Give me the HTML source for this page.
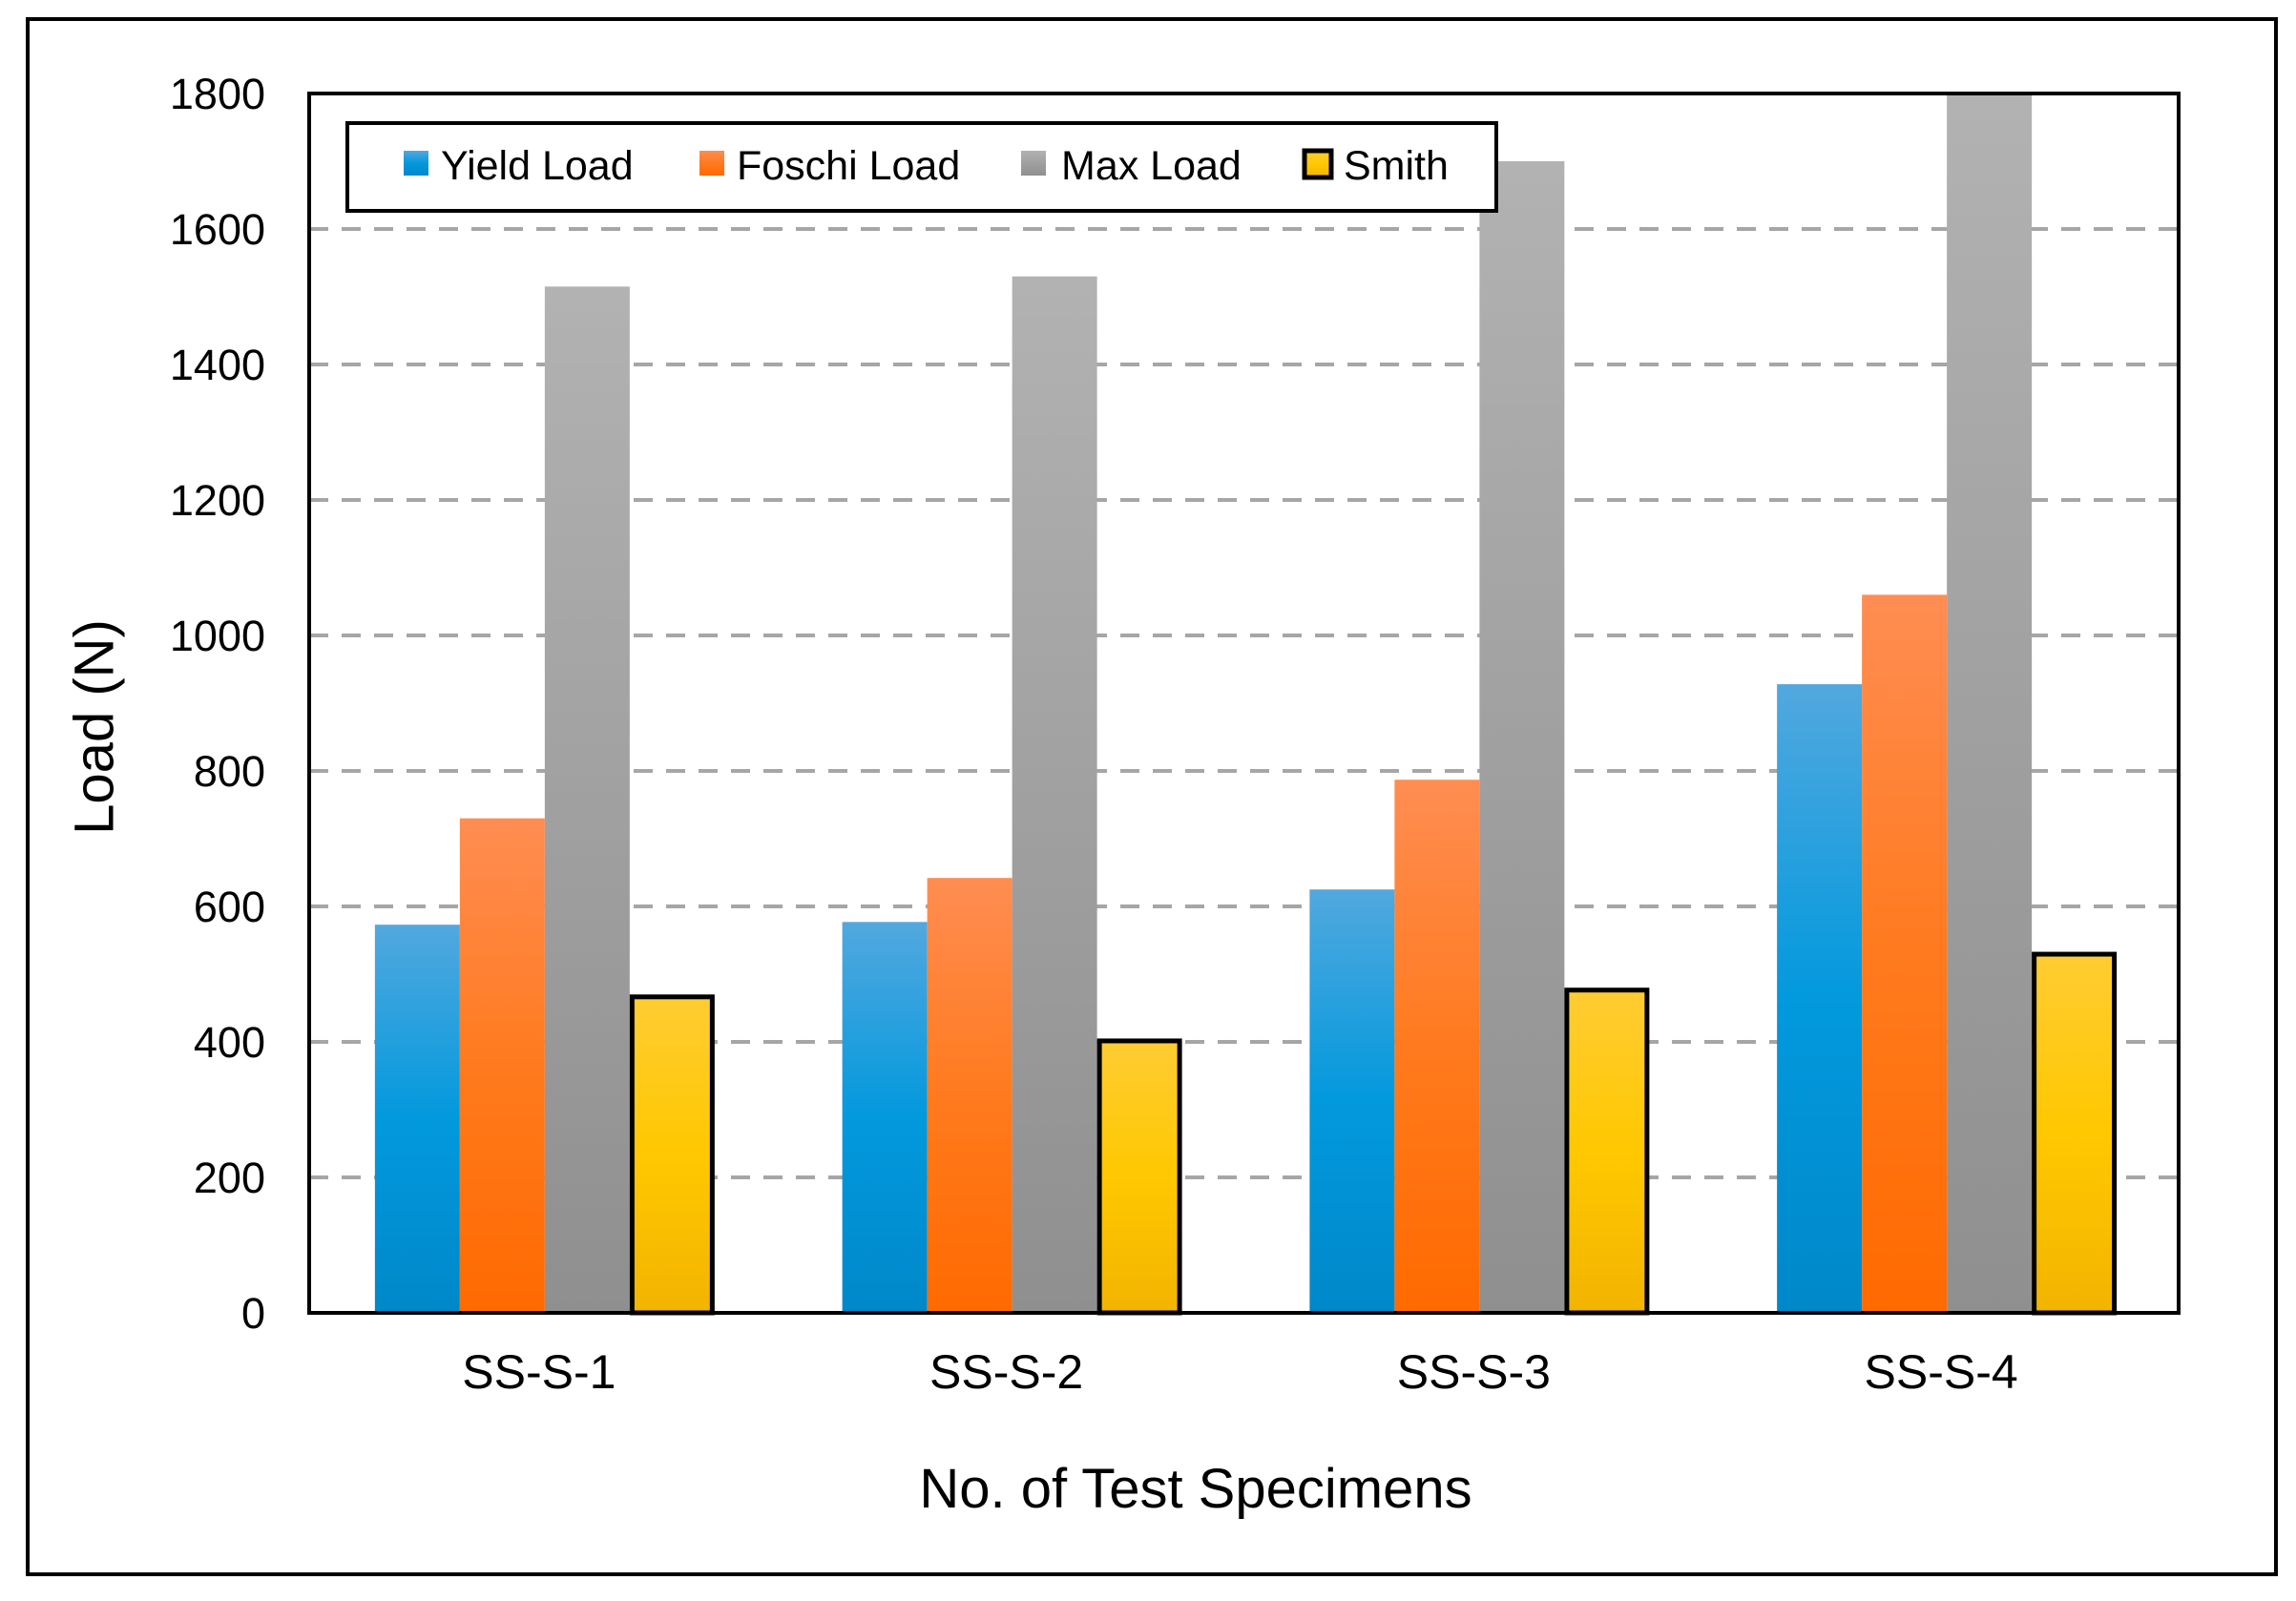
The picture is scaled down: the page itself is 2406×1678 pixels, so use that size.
<!DOCTYPE html>
<html><head><meta charset="utf-8"><style>
html,body{margin:0;padding:0;background:#fff;}
svg{display:block;font-family:"Liberation Sans",sans-serif;}
</style></head><body>
<svg id="chart" width="2406" height="1678" viewBox="0 0 2406 1678">
<defs>
<linearGradient id="gBlue" x1="0" y1="0" x2="0" y2="1"><stop offset="0" stop-color="#52a8de"/><stop offset="0.5" stop-color="#0299dd"/><stop offset="1" stop-color="#0088c9"/></linearGradient>
<linearGradient id="gOrange" x1="0" y1="0" x2="0" y2="1"><stop offset="0" stop-color="#ff8d52"/><stop offset="0.5" stop-color="#ff7a1e"/><stop offset="1" stop-color="#ff6a00"/></linearGradient>
<linearGradient id="gGray" x1="0" y1="0" x2="0" y2="1"><stop offset="0" stop-color="#b2b2b2"/><stop offset="1" stop-color="#8f8f8f"/></linearGradient>
<linearGradient id="gYellow" x1="0" y1="0" x2="0" y2="1"><stop offset="0" stop-color="#ffcc33"/><stop offset="0.5" stop-color="#ffc800"/><stop offset="1" stop-color="#f2b400"/></linearGradient>
</defs>
<rect x="29" y="20" width="2356" height="1630" fill="#fff" stroke="#000" stroke-width="4"/>
<g id="grid"></g>
<g id="bars"></g>
<rect x="324" y="98" width="1959" height="1278" fill="none" stroke="#000" stroke-width="4"/>
<g id="yticks"></g>
<g id="xticks"></g>
<text x="103" y="762" font-size="58" text-anchor="middle" dominant-baseline="middle" transform="rotate(-90 103 762)">Load (N)</text>
<text x="1253" y="1580" font-size="58" text-anchor="middle">No. of Test Specimens</text>
<g>
<rect x="364" y="129" width="1204" height="92" fill="#fff" stroke="#000" stroke-width="4"/>
<rect x="423" y="158" width="26" height="26" fill="url(#gBlue)"/>
<text x="462" y="188" font-size="43">Yield Load</text>
<rect x="733" y="158" width="26" height="26" fill="url(#gOrange)"/>
<text x="772" y="188" font-size="43">Foschi Load</text>
<rect x="1070" y="158" width="26" height="26" fill="url(#gGray)"/>
<text x="1112" y="188" font-size="43">Max Load</text>
<rect x="1367" y="158" width="28" height="28" fill="url(#gYellow)" stroke="#000" stroke-width="5"/>
<text x="1408" y="188" font-size="43">Smith</text>
</g>
</svg>
<script>
const categories = ["SS-S-1","SS-S-2","SS-S-3","SS-S-4"];
const yieldLoad = [573, 577, 625, 928];
const foschiLoad = [730, 642, 787, 1060];
const maxLoad = [1515, 1530, 1700, 1800];
const smithLoad = [470, 405, 480, 533];
const yTicks = [0,200,400,600,800,1000,1200,1400,1600,1800];

const NS="http://www.w3.org/2000/svg";
const L=324,R=2283,T=98,B=1376,YMAX=1800;
const y=v=>B-(v/YMAX)*(B-T);
const groupW=(R-L)/categories.length, barW=89;
const gx=i=>L+i*groupW+(groupW-4*barW)/2+2;
function mk(tag,attrs,parent){const e=document.createElementNS(NS,tag);for(const k in attrs)e.setAttribute(k,attrs[k]);parent.appendChild(e);return e;}
const grid=document.getElementById('grid'),bars=document.getElementById('bars'),yt=document.getElementById('yticks'),xt=document.getElementById('xticks');
yTicks.forEach(v=>{
  if(v>0&&v<YMAX){const ln=mk('line',{x1:L,x2:R,y1:y(v),y2:y(v),stroke:'#a6a6a6','stroke-width':4,'stroke-dasharray':'20 14'},grid);
  
  }
  const t=mk('text',{x:278,y:y(v)+16,'font-size':45,'text-anchor':'end'},yt);t.textContent=v;
  
  
});
const series=[[yieldLoad,'url(#gBlue)','yield'],[foschiLoad,'url(#gOrange)','foschi'],[maxLoad,'url(#gGray)','max'],[smithLoad,'url(#gYellow)','smith']];
categories.forEach((c,i)=>{
  series.forEach((s,j)=>{
    const v=s[0][i];const x=gx(i)+j*barW;
    const a={x:x,y:y(v),width:barW,height:B-y(v),fill:s[1]};
    if(s[2]==='smith'){a.stroke='#000';a['stroke-width']=5;a.x=x+2.5;a.width=barW-5;a.y=y(v)+2.5;a.height=B-y(v)-2.5;}
    const r=mk('rect',a,bars);
    
    
  });
  const t=mk('text',{x:gx(i)+2*barW-6,y:1455,'font-size':50,'text-anchor':'middle'},xt);t.textContent=c;
  
  
});
</script>
</body></html>
